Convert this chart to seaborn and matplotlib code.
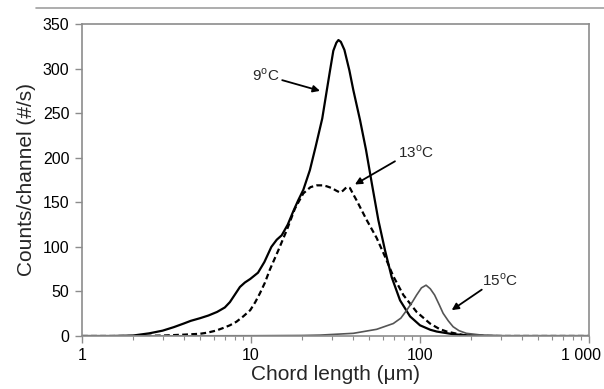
import numpy as np
import pandas as pd
import seaborn as sns
import matplotlib
matplotlib.use("Agg")
import matplotlib.pyplot as plt
from matplotlib.lines import Line2D
from matplotlib.ticker import NullFormatter, LogLocator
from matplotlib.transforms import ScaledTranslation

# chord length (um) and counts/channel
x_9c = [1.0, 1.5, 2.0, 2.5, 3.0, 3.5, 4.0, 4.4, 5.0, 5.6, 6.3, 7.0, 7.5, 8.0, 8.6,
        9.2, 9.9, 11.0, 12.0, 13.2, 14.2, 15.2, 16.5, 17.8, 19.0, 20.4, 22.3, 24.1,
        26.4, 28.0, 29.3, 30.7, 32.0, 32.9, 34.0, 35.7, 38.2, 40.3, 44.2, 47.9, 52.0,
        56.7, 62.1, 68.0, 76.2, 87.3, 100, 115, 125.6, 157, 200, 300, 1000]
y_9c = [0, 0, 0.5, 3, 6, 10, 14, 17, 20, 23, 27, 32, 38, 46, 55,
        60, 64, 71, 83, 100, 108, 113, 125, 140, 152, 164, 186, 212,
        244, 274, 297, 320, 329, 332, 330, 321, 298, 276, 242, 209, 170,
        130, 96, 66, 40, 22, 12, 7, 5, 2, 0.5, 0, 0]

x_13c = [1, 2, 3, 4, 5, 5.5, 6.2, 6.85, 7.5, 8.2, 9.0, 9.9, 10.6, 11.3, 12.1, 12.9,
         14.5, 16.3, 18.2, 20.4, 22.5, 24.5, 26.5, 28, 30, 32, 33.6, 35, 36.8, 38.5,
         40, 42.2, 48.4, 55.4, 62.1, 69.5, 79.7, 95.5, 114.6, 130, 143.8, 180, 250, 1000]
y_13c = [0, 0, 0.5, 1.5, 2.5, 3.7, 6, 9, 12, 16, 22, 29, 38, 48, 60, 74,
         96, 119, 143, 160, 167, 169, 169, 168, 166, 163, 161, 163, 167, 166,
         160, 152, 130, 110, 89, 67, 46, 27, 14, 8, 5, 1, 0, 0]

x_15c = [1, 10, 20, 25.6, 40.3, 55.4, 69.5, 77, 83.5, 90, 95.5, 102, 108.6, 115,
         122, 130, 137, 147, 157, 170, 188, 240, 350, 1000]
y_15c = [0, 0.3, 0.6, 1, 3, 7.5, 14, 20, 29, 38, 46, 54, 57, 53,
         46, 35, 25.5, 17, 10.4, 6, 3, 0.7, 0, 0]

y_ticks = [0, 50, 100, 150, 200, 250, 300, 350]
x_ticks = [1, 10, 100, 1000]
x_tick_labels = ["1", "10", "100", "1 000"]

sns.set_style("white")
plt.rcParams["font.family"] = ["Liberation Sans", "DejaVu Sans"]
plt.rcParams["mathtext.fontset"] = "custom"
plt.rcParams["mathtext.rm"] = "Liberation Sans"

fig = plt.figure(figsize=(6.04, 3.89), dpi=100)
ax = fig.add_axes([82 / 604, 1 - 336 / 389, (589 - 82) / 604, (336 - 24) / 389])

sns.lineplot(x=x_9c, y=y_9c, ax=ax, color="black", lw=1.6)
sns.lineplot(x=x_13c, y=y_13c, ax=ax, color="black", lw=1.6, linestyle="--")
ax.lines[-1].set_dashes((2.6, 1.5))
sns.lineplot(x=x_15c, y=y_15c, ax=ax, color="#555555", lw=1.2)

ax.set_xscale("log")
ax.set_xlim(1, 1000)
ax.set_ylim(0, 350)
ax.set_xticks(x_ticks)
ax.set_xticklabels(x_tick_labels)
ax.xaxis.set_minor_locator(LogLocator(base=10, subs=np.arange(2, 10)))
ax.xaxis.set_minor_formatter(NullFormatter())
ax.set_yticks(y_ticks)

for s in ax.spines.values():
    s.set_color("#8c8c8c")
    s.set_linewidth(1.2)
ax.tick_params(axis="both", which="major", direction="out", length=5, width=1,
               color="#8c8c8c", labelsize=11.5, labelcolor="black", pad=4)
ax.tick_params(axis="x", which="minor", direction="out", length=3, width=0.8,
               color="#8c8c8c", bottom=True)
ax.tick_params(axis="x", which="major", bottom=True)
ax.tick_params(axis="y", which="major", left=True)

# last tick label sits a little left of its tick so it stays inside the figure
last = ax.get_xticklabels()[-1]
last.set_transform(last.get_transform() + ScaledTranslation(-8 / 100, 0, fig.dpi_scale_trans))

ax.set_xlabel("Chord length (μm)", fontsize=15, labelpad=1)
ax.set_ylabel("Counts/channel (#/s)", fontsize=15, labelpad=5)

arrow = dict(arrowstyle="-|>", color="black", lw=1.3, mutation_scale=10,
             shrinkA=0, shrinkB=0)
ax.annotate("", xy=(25.6, 275), xytext=(15.3, 287), arrowprops=arrow)
ax.text(14.8, 292, "9$^{\\rm o}$C", fontsize=11, ha="right", va="center")
ax.annotate("", xy=(41.2, 170), xytext=(71.1, 196), arrowprops=arrow)
ax.text(74, 206, "13$^{\\rm o}$C", fontsize=11, ha="left", va="center")
ax.annotate("", xy=(154, 29), xytext=(232, 52), arrowprops=arrow)
ax.text(234, 62, "15$^{\\rm o}$C", fontsize=11, ha="left", va="center")

fig.add_artist(Line2D([36 / 604, 1], [1 - 8 / 389, 1 - 8 / 389],
                      color="#a0a0a0", lw=1.2))

fig.savefig("out.png", dpi=100)
